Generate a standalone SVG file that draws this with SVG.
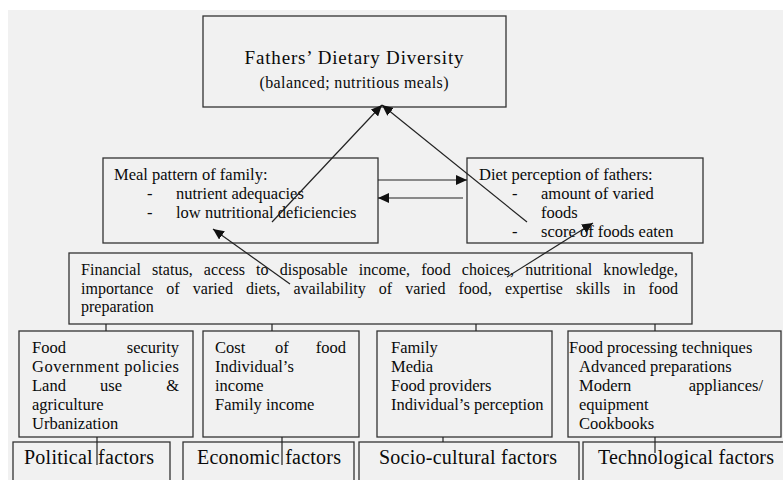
<svg xmlns="http://www.w3.org/2000/svg" width="783" height="480" viewBox="0 0 783 480">
<defs>
<style>
.box{fill:none;stroke:#333;stroke-width:1.3}
.t{font-family:"Liberation Serif","Times New Roman",serif;fill:#0a0a0a;font-size:16.5px}
.f{font-size:16px}
.lab{font-size:20px}
.ln{stroke:#222;stroke-width:1.2;fill:none}
.ar{stroke:#222;stroke-width:1.2;fill:none;marker-end:url(#ah)}
</style>
<marker id="ah" markerUnits="userSpaceOnUse" markerWidth="12" markerHeight="10" refX="11" refY="5" orient="auto">
<path d="M0,0 L11,5 L0,10 Z" fill="#111"/>
</marker>
</defs>
<rect x="0" y="0" width="783" height="480" fill="#ffffff"/>
<rect x="8" y="10" width="775" height="470" fill="#f1f1f1"/>

<g id="top">
<rect class="box" x="203" y="16" width="303" height="91"/>
<text class="t" x="354" y="64" text-anchor="middle" style="font-size:19px" textLength="219">Fathers’ Dietary Diversity</text>
<text class="t" x="354" y="88" text-anchor="middle" style="font-size:16px" textLength="189">(balanced; nutritious meals)</text>
</g>

<g id="meal">
<rect class="box" x="103" y="158" width="275" height="85"/>
<text class="t" x="114" y="180">Meal pattern of family:</text>
<text class="t" x="147" y="199">-</text>
<text class="t" x="176" y="199">nutrient adequacies</text>
<text class="t" x="147" y="218">-</text>
<text class="t" x="176" y="218">low nutritional deficiencies</text>
</g>

<g id="diet">
<rect class="box" x="467" y="158" width="236" height="85"/>
<text class="t" x="479" y="180">Diet perception of fathers:</text>
<text class="t" x="512" y="199">-</text>
<text class="t" x="541" y="199">amount of varied</text>
<text class="t" x="541" y="218">foods</text>
<text class="t" x="512" y="237">-</text>
<text class="t" x="541" y="237">score of foods eaten</text>
</g>

<g id="financial">
<rect class="box" x="69" y="253" width="623" height="71"/>
<text class="t f" x="81" y="275" word-spacing="7" textLength="597">Financial status, access to disposable income, food choices, nutritional knowledge,</text>
<text class="t f" x="81" y="294" word-spacing="9" textLength="597">importance of varied diets, availability of varied food, expertise skills in food</text>
<text class="t f" x="81" y="312">preparation</text>
</g>

<g id="political-detail">
<rect class="box" x="19" y="331" width="174" height="106"/>
<text class="t" y="353"><tspan x="32">Food</tspan><tspan x="179" text-anchor="end">security</tspan></text>
<text class="t" x="32" y="372" textLength="147">Government policies</text>
<text class="t" y="391"><tspan x="32">Land</tspan><tspan x="100">use</tspan><tspan x="179" text-anchor="end">&amp;</tspan></text>
<text class="t" x="32" y="410">agriculture</text>
<text class="t" x="32" y="429">Urbanization</text>
</g>

<g id="economic-detail">
<rect class="box" x="203" y="331" width="156" height="106"/>
<text class="t" y="353"><tspan x="215">Cost</tspan><tspan x="275">of</tspan><tspan x="346" text-anchor="end">food</tspan></text>
<text class="t" x="215" y="372">Individual’s</text>
<text class="t" x="215" y="391">income</text>
<text class="t" x="215" y="410">Family income</text>
</g>

<g id="socio-detail">
<rect class="box" x="377" y="331" width="175" height="106"/>
<text class="t" x="391" y="353">Family</text>
<text class="t" x="391" y="372">Media</text>
<text class="t" x="391" y="391">Food providers</text>
<text class="t" x="391" y="410">Individual’s perception</text>
</g>

<g id="tech-detail">
<rect class="box" x="568" y="331" width="213" height="106"/>
<text class="t" x="569" y="353">Food processing techniques</text>
<text class="t" x="579" y="372">Advanced preparations</text>
<text class="t" y="391"><tspan x="579">Modern</tspan><tspan x="763" text-anchor="end">appliances/</tspan></text>
<text class="t" x="579" y="410">equipment</text>
<text class="t" x="579" y="429">Cookbooks</text>
</g>

<g id="political">
<rect class="box" x="13" y="442" width="157" height="45"/>
<text class="t lab" x="24" y="464" textLength="130">Political factors</text>
</g>
<g id="economic">
<rect class="box" x="183" y="442" width="171" height="45"/>
<text class="t lab" x="197" y="464" textLength="144">Economic factors</text>
</g>
<g id="socio">
<rect class="box" x="359" y="442" width="220" height="45"/>
<text class="t lab" x="379" y="464" textLength="178">Socio-cultural factors</text>
</g>
<g id="tech">
<rect class="box" x="583" y="442" width="210" height="45"/>
<text class="t lab" x="598" y="464" textLength="176">Technological factors</text>
</g>

<g id="connectors">
<line class="ar" x1="272" y1="222" x2="382" y2="105"/>
<line class="ar" x1="527" y1="222" x2="382" y2="105"/>
<line class="ar" x1="378" y1="180" x2="467" y2="180"/>
<line class="ar" x1="463" y1="198" x2="378" y2="198"/>
<line class="ar" x1="290" y1="284" x2="213" y2="229"/>
<line class="ar" x1="507" y1="277" x2="593" y2="223"/>
<line class="ln" x1="106" y1="324" x2="106" y2="331"/>
<line class="ln" x1="272" y1="324" x2="272" y2="331"/>
<line class="ln" x1="476" y1="324" x2="476" y2="331"/>
<line class="ln" x1="655" y1="324" x2="655" y2="331"/>
<line class="ln" x1="97" y1="437" x2="97" y2="465"/>
<line class="ln" x1="282" y1="437" x2="282" y2="465"/>
<line class="ln" x1="443" y1="437" x2="443" y2="442"/>
<line class="ln" x1="655" y1="437" x2="655" y2="453"/>
</g>
</svg>
